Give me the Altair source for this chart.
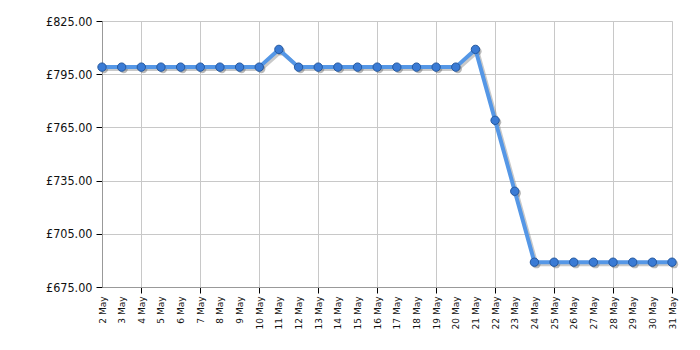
import altair as alt
import pandas as pd

days = list(range(2, 32))
labels = [f"{d} May" for d in days]
prices = [798.99] * 9 + [808.99] + [798.99] * 9 + [808.99, 768.99, 728.99] + [688.99] * 8

df = pd.DataFrame({"day": days, "label": labels, "price": prices})

y_ticks = [675, 705, 735, 765, 795, 825]

x_enc = alt.X(
    "day:Q",
    scale=alt.Scale(domain=[2, 31], nice=False, zero=False),
    axis=alt.Axis(
        values=days,
        labelExpr="datum.value + ' May'",
        labelAngle=-90,
        labelAlign="right",
        labelBaseline="middle",
        labelFont="DejaVu Sans",
        labelFontSize=9,
        labelColor="#111111",
        labelPadding=3,
        tickSize=6,
        tickColor="#000000",
        tickOpacity={"condition": {"test": "datum.value % 3 == 1", "value": 1}, "value": 0},
        grid=True,
        gridColor="#c8c8c8",
        gridOpacity={"condition": {"test": "datum.value % 3 == 1", "value": 1}, "value": 0},
        domainColor="#999999",
        title=None,
    ),
)
y_enc = alt.Y(
    "price:Q",
    scale=alt.Scale(domain=[675, 825], nice=False, zero=False),
    axis=alt.Axis(
        values=y_ticks,
        labelExpr="'£' + format(datum.value, '.2f')",
        labelFont="DejaVu Sans Condensed, DejaVu Sans",
        labelFontSize=12.5,
        labelColor="#111111",
        labelPadding=4,
        tickSize=6,
        tickColor="#000000",
        grid=True,
        gridColor="#c8c8c8",
        domainColor="#999999",
        title=None,
    ),
)

base = alt.Chart(df).encode(x=x_enc, y=y_enc)

shadow_line = base.mark_line(color="#888888", strokeWidth=4, opacity=0.45, xOffset=2, yOffset=2)
shadow_pts = base.mark_circle(color="#666666", size=70, opacity=0.45, xOffset=2, yOffset=2)
line = base.mark_line(color="#5597e6", strokeWidth=4)
pts = base.mark_point(filled=True, shape="circle", size=70, fill="#3a7bd5", stroke="#24589f", strokeWidth=1, opacity=1)

chart = (
    alt.layer(shadow_line, shadow_pts, line, pts)
    .properties(
        width=570,
        height=266,
        autosize=alt.AutoSizeParams(type="none"),
        padding={"left": 102, "top": 21, "right": 28, "bottom": 63},
    )
    .configure_view(stroke=None)
    .configure(background="white")
)

chart.save("out.html", embed_options={"renderer": "svg", "actions": False})
